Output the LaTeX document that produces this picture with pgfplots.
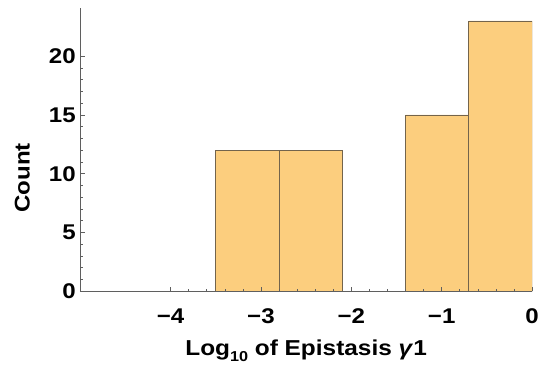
\documentclass[border=0pt]{standalone}
\usepackage{pgfplots}
\pgfplotsset{compat=1.18}
\usepackage{fontspec}
\setmainfont{Liberation Sans}[FakeStretch=1.13]

\definecolor{barfill}{RGB}{252,206,126}
\definecolor{baredge}{RGB}{115,100,76}
\definecolor{axisgray}{RGB}{95,95,95}

\begin{document}
\begin{tikzpicture}
\begin{axis}[
  name=ax,
  scale only axis,
  width=456bp, height=286bp,
  xmin=-5, xmax=0,
  ymin=0, ymax=24.1,
  axis lines*=left,
  axis line style={axisgray, line width=0.8bp},
  axis on top,
  tick align=inside,
  tick style={axisgray, line width=0.6bp},
  major tick length=4.5bp,
  minor tick length=2.7bp,
  xtick={-4,-3,-2,-1,0},
  xticklabels={−4,−3,−2,−1,0},
  minor x tick num=4,
  ytick={0,5,10,15,20},
  yticklabels={0,5,10,15,20},
  minor y tick num=4,
  ticklabel style={font=\bfseries\fontsize{21.5bp}{25bp}\selectfont},
  xticklabel style={yshift=-14bp},
  yticklabel style={xshift=-1bp},
  xlabel={Log\raisebox{-0.28em}{\fontsize{14.5bp}{16bp}\selectfont 10} of Epistasis \textit{γ}1},
  ylabel={Count},
  every axis x label/.style={at={(axis description cs:0.5,0)}, anchor=base, yshift=-65bp,
    font=\bfseries\fontsize{21.8bp}{25bp}\selectfont},
  every axis y label/.style={at={(axis description cs:0,0.40)}, anchor=base, rotate=90, yshift=51bp,
    font=\bfseries\fontsize{21.5bp}{25bp}\selectfont},
]
% histogram bins of width 0.7
\addplot[ybar interval, fill=barfill, draw=baredge, line width=0.7bp]
  coordinates {(-3.5,12) (-2.8,12) (-2.1,12)};
\addplot[ybar interval, fill=barfill, draw=baredge, line width=0.7bp]
  coordinates {(-1.4,15) (-0.7,23) (0,23)};
\end{axis}
\path[use as bounding box] ([xshift=-81bp,yshift=-78bp]ax.south west) rectangle ([xshift=5bp,yshift=8bp]ax.north east);
\end{tikzpicture}
\end{document}
